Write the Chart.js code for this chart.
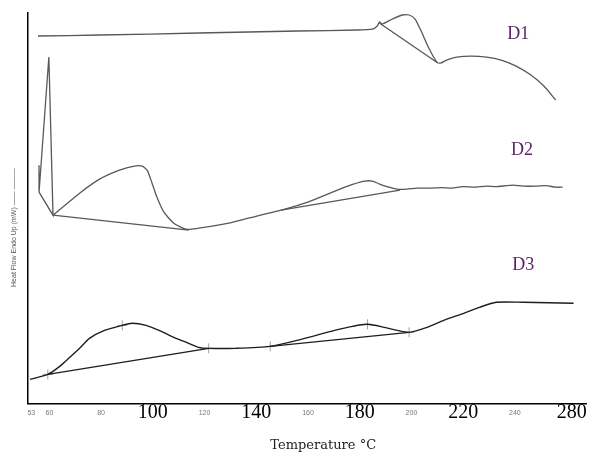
<!DOCTYPE html>
<html>
<head>
<meta charset="utf-8">
<script src="https://cdn.jsdelivr.net/npm/chart.js@4.4.1/dist/chart.umd.min.js"></script>
<style>
  html, body { margin: 0; padding: 0; background: #fff; }
</style>
</head>
<body>
<canvas id="dscChart" width="592" height="460"></canvas>
<script>
// x ticks as printed on the original thermogram ("280" sits where 262 would be)
const tickValues = [53, 60, 80, 100, 120, 140, 160, 180, 200, 220, 240, 262];
const tickLabels = ['53', '60', '80', '100', '120', '140', '160', '180', '200', '220', '240', '280'];
const bigLabels = ['100', '140', '180', '220', '280'];
const seriesNames = ['D1', 'D2', 'D3'];

// D1 (top trace), heat flow in arbitrary units
const d1Temp = [55.6, 79.4, 117.8, 156.1, 179.1, 184.9, 186.8, 187.6, 188.7, 192.6, 196.4, 199.1, 201.4, 204.1, 206.7, 209.8, 211.3, 213.6, 217.5, 223.2, 229.0, 234.7, 240.5, 246.2, 251.2, 255.8];
const d1Flow = [367, 368, 370, 372, 373, 374, 377, 381, 379, 384, 388, 388, 384, 370, 355, 341, 340, 343, 346, 347, 346, 343, 337, 328, 317, 303];
const d1BaseTemp = [187.6, 210.2];
const d1BaseFlow = [380, 340];

// D2 (middle trace)
const d2SpikeTemp = [56.0, 56.0, 59.8, 61.4, 56.0];
const d2SpikeFlow = [238, 211, 346, 188, 211];
const d2Temp = [61.4, 71.7, 79.4, 87.1, 92.8, 95.9, 97.8, 99.7, 101.6, 104.3, 108.1, 112.8, 117.7, 127.3, 136.9, 151.1, 159.9, 167.6, 175.3, 181.8, 184.9, 188.7, 194.5, 198.3, 202.1, 207.1, 211.7, 215.6, 219.8, 224.4, 229.0, 232.8, 236.7, 239.3, 243.2, 248.2, 252.0, 255.8, 258.5];
const d2Flow = [188, 210, 224, 233, 237, 237, 233, 220, 206, 191, 180, 174, 175, 179, 185, 194, 201, 209, 217, 222, 222, 218, 214, 214, 215, 215, 215.5, 215, 216.5, 216, 217, 216.5, 217.5, 218, 217, 217, 217.5, 216, 216];
const d2Base1Temp = [61.4, 113.9];
const d2Base1Flow = [188, 173];
const d2Base2Temp = [149.6, 195.6];
const d2Base2Flow = [193, 213];

// D3 (bottom trace)
const d3Temp = [52.5, 59.4, 64.0, 67.9, 71.7, 75.5, 81.3, 88.2, 92.0, 97.4, 102.4, 108.1, 113.9, 117.7, 121.6, 131.9, 145.4, 157.3, 170.3, 177.2, 183.0, 189.5, 194.5, 199.1, 206.0, 212.5, 220.2, 226.3, 232.8, 243.2, 262.7];
const d3Flow = [24, 29, 37, 46, 55, 65, 73, 78, 80, 78, 73, 66, 60, 56, 55, 55, 57, 64, 73, 77, 79, 76, 73, 71, 76, 83, 90, 96, 101, 101, 100];
const d3Base1Temp = [59.4, 121.6];
const d3Base1Flow = [29, 55];
const d3Base2Temp = [145.4, 199.1];
const d3Base2Flow = [57, 71];
const d3MarkTemp = [59.4, 88.2, 121.6, 145.4, 183.0, 199.1];
const d3MarkFlow = [29, 78, 55, 57, 79, 71];

function pts(temps, flows) {
    return temps.map((t, i) => ({ x: t, y: flows[i] }));
}

function trace(temps, flows, color, width, tension) {
    return {
        type: 'line',
        data: pts(temps, flows),
        borderColor: color,
        borderWidth: width,
        pointRadius: 0,
        tension: tension,
        fill: false
    };
}

const greyTrace = '#5d5557';
const darkTrace = '#1e1e1e';

// D1/D2/D3 names next to each trace
const seriesLabelPlugin = {
    id: 'seriesLabels',
    afterDatasetsDraw(chart) {
        const { ctx, scales: { x, y } } = chart;
        const spots = [[241.3, 369], [242.8, 253], [243.2, 138]];
        ctx.save();
        ctx.font = '18px "Liberation Serif"';
        ctx.fillStyle = '#5c2466';
        ctx.textAlign = 'center';
        ctx.textBaseline = 'middle';
        seriesNames.forEach((name, i) => {
            ctx.fillText(name, x.getPixelForValue(spots[i][0]), y.getPixelForValue(spots[i][1]));
        });
        ctx.restore();
    }
};

const isBig = c => bigLabels.includes(tickLabels[c.index]);

new Chart(document.getElementById('dscChart'), {
    type: 'line',
    data: {
        datasets: [
            trace(d1Temp, d1Flow, greyTrace, 1.3, 0.25),
            trace(d1BaseTemp, d1BaseFlow, greyTrace, 1.3, 0),
            trace(d2SpikeTemp, d2SpikeFlow, greyTrace, 1.3, 0),
            trace(d2Temp, d2Flow, greyTrace, 1.3, 0.2),
            trace(d2Base1Temp, d2Base1Flow, greyTrace, 1.3, 0),
            trace(d2Base2Temp, d2Base2Flow, greyTrace, 1.3, 0),
            trace(d3Temp, d3Flow, darkTrace, 1.4, 0.25),
            trace(d3Base1Temp, d3Base1Flow, darkTrace, 1.4, 0),
            trace(d3Base2Temp, d3Base2Flow, darkTrace, 1.4, 0),
            {
                type: 'line',
                data: pts(d3MarkTemp, d3MarkFlow),
                showLine: false,
                pointStyle: 'cross',
                pointRadius: 5,
                pointBorderColor: '#a0a0a0',
                pointBorderWidth: 1
            }
        ]
    },
    options: {
        responsive: false,
        animation: false,
        layout: { padding: { left: 0, right: 2, top: 13, bottom: 3 } },
        plugins: {
            legend: { display: false },
            tooltip: { enabled: false }
        },
        scales: {
            x: {
                type: 'linear',
                min: 51.5,
                max: 267.5,
                afterBuildTicks: s => { s.ticks = tickValues.map(v => ({ value: v })); },
                grid: { display: false, drawTicks: false },
                border: { display: true, color: '#000', width: 1.5 },
                ticks: {
                    autoSkip: false,
                    maxRotation: 0,
                    minRotation: 0,
                    padding: -3,
                    // small labels get an empty first line so they sit mid-height of the big ones
                    callback: (v, i) => bigLabels.includes(tickLabels[i]) ? tickLabels[i] : ['', tickLabels[i]],
                    font: c => isBig(c)
                        ? { family: 'Liberation Serif', size: 20 }
                        : { family: 'Liberation Sans', size: 7 },
                    color: c => isBig(c) ? '#000' : '#777'
                },
                title: {
                    display: true,
                    text: '        Temperature °C',
                    font: { family: 'DejaVu Serif', size: 13 },
                    color: '#222',
                    padding: { top: 16, bottom: 4 }
                }
            },
            y: {
                type: 'linear',
                min: 0,
                max: 390,
                grid: { display: false, drawTicks: false },
                border: { display: true, color: '#000', width: 1.5 },
                ticks: { display: false },
                title: {
                    display: true,
                    text: 'Heat Flow Endo Up (mW) —— ———' + ' '.repeat(20),
                    font: { family: 'Liberation Sans', size: 7 },
                    color: '#555',
                    padding: { top: 10, bottom: 9 }
                }
            }
        }
    },
    plugins: [seriesLabelPlugin]
});
</script>
</body>
</html>
